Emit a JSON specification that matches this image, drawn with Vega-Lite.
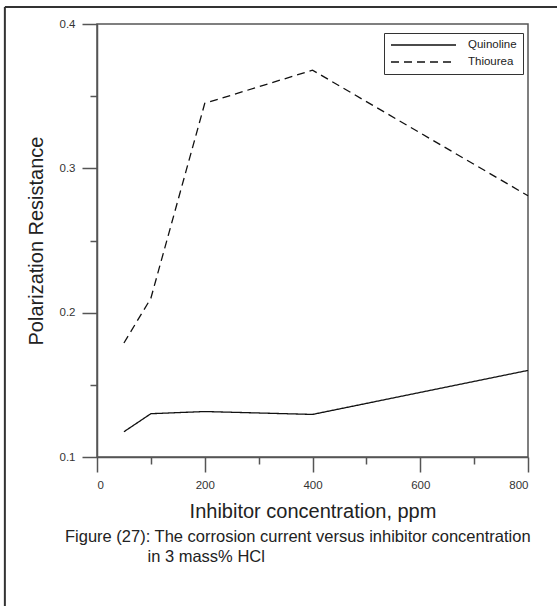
{
  "$schema": "https://vega.github.io/schema/vega-lite/v6.json",
  "width": 431,
  "height": 433,
  "autosize": {"type": "none"},
  "padding": {"left": 97, "top": 24, "right": 29, "bottom": 149},
  "background": "white",
  "config": {
    "font": "Liberation Sans",
    "view": {"stroke": "#555", "strokeWidth": 1.5},
    "axis": {
      "grid": false,
      "domainColor": "#555",
      "domainWidth": 1.5,
      "tickColor": "#555",
      "tickWidth": 1.5,
      "labelColor": "#333",
      "labelFontSize": 11.5,
      "labelPadding": 7,
      "titleFontSize": 20,
      "titleFontWeight": "normal",
      "titleColor": "#222"
    }
  },
  "title": {
    "text": [
      "Figure (27): The corrosion current versus inhibitor concentration",
      "\u200b\u00a0\u00a0\u00a0\u00a0\u00a0\u00a0\u00a0\u00a0\u00a0\u00a0\u00a0\u00a0\u00a0\u00a0\u00a0\u00a0\u00a0\u00a0in 3 mass% HCl"
    ],
    "orient": "bottom",
    "anchor": "start",
    "frame": "group",
    "dx": -32,
    "offset": -78,
    "fontSize": 16.5,
    "fontWeight": "normal",
    "color": "#222",
    "lineHeight": 20
  },
  "datasets": {
    "curves": [
      {"inhibitor": "Quinoline", "ppm": 50, "resistance": 0.1175},
      {"inhibitor": "Quinoline", "ppm": 100, "resistance": 0.130},
      {"inhibitor": "Quinoline", "ppm": 200, "resistance": 0.1315},
      {"inhibitor": "Quinoline", "ppm": 400, "resistance": 0.1295},
      {"inhibitor": "Quinoline", "ppm": 800, "resistance": 0.160},
      {"inhibitor": "Thiourea", "ppm": 50, "resistance": 0.179},
      {"inhibitor": "Thiourea", "ppm": 100, "resistance": 0.210},
      {"inhibitor": "Thiourea", "ppm": 200, "resistance": 0.345},
      {"inhibitor": "Thiourea", "ppm": 400, "resistance": 0.368},
      {"inhibitor": "Thiourea", "ppm": 800, "resistance": 0.281}
    ]
  },
  "layer": [
    {
      "data": {"name": "curves"},
      "mark": {"type": "line", "strokeWidth": 1.3, "color": "#111"},
      "encoding": {
        "x": {
          "field": "ppm",
          "type": "quantitative",
          "scale": {"domain": [0, 800], "nice": false},
          "title": "Inhibitor concentration, ppm",
          "axis": {
            "values": [0, 100, 200, 300, 400, 500, 600, 700, 800],
            "labelExpr": "datum.value % 200 === 0 ? datum.label : ''",
            "tickSize": {"condition": {"test": "datum.value % 200 === 0", "value": 15}, "value": 7},
            "titlePadding": 11
          }
        },
        "y": {
          "field": "resistance",
          "type": "quantitative",
          "scale": {"domain": [0.1, 0.4], "nice": false, "zero": false},
          "title": "Polarization Resistance",
          "axis": {
            "values": [0.1, 0.15, 0.2, 0.25, 0.3, 0.35, 0.4],
            "labelExpr": "abs(datum.value * 10 - round(datum.value * 10)) < 0.001 ? format(datum.value, '.1f') : ''",
            "tickSize": {"condition": {"test": "abs(datum.value * 10 - round(datum.value * 10)) < 0.001", "value": 15}, "value": 7},
            "titlePadding": 13
          }
        },
        "strokeDash": {
          "field": "inhibitor",
          "type": "nominal",
          "scale": {"domain": ["Quinoline", "Thiourea"], "range": [[1, 0], [8, 5]]},
          "legend": {
            "title": null,
            "orient": "none",
            "legendX": 287,
            "legendY": 9,
            "strokeColor": "#333",
            "fillColor": "white",
            "padding": 6,
            "symbolType": "stroke",
            "symbolSize": 4225,
            "symbolStrokeWidth": 1.3,
            "symbolStrokeColor": "#111",
            "labelFontSize": 11.5,
            "labelColor": "#222",
            "labelOffset": 11,
            "clipHeight": 12,
            "rowPadding": 5
          }
        }
      }
    },
    {
      "data": {"values": [{}]},
      "mark": {"type": "rule", "clip": false, "color": "#333", "strokeWidth": 2},
      "encoding": {
        "x": {"datum": -171, "type": "quantitative"},
        "y": {"datum": 0.4118, "type": "quantitative"},
        "y2": {"datum": -0.0032}
      }
    },
    {
      "data": {"values": [{}]},
      "mark": {"type": "rule", "clip": false, "color": "#333", "strokeWidth": 2},
      "encoding": {
        "x": {"datum": -171, "type": "quantitative"},
        "x2": {"datum": 870},
        "y": {"datum": 0.4118, "type": "quantitative"}
      }
    }
  ]
}
